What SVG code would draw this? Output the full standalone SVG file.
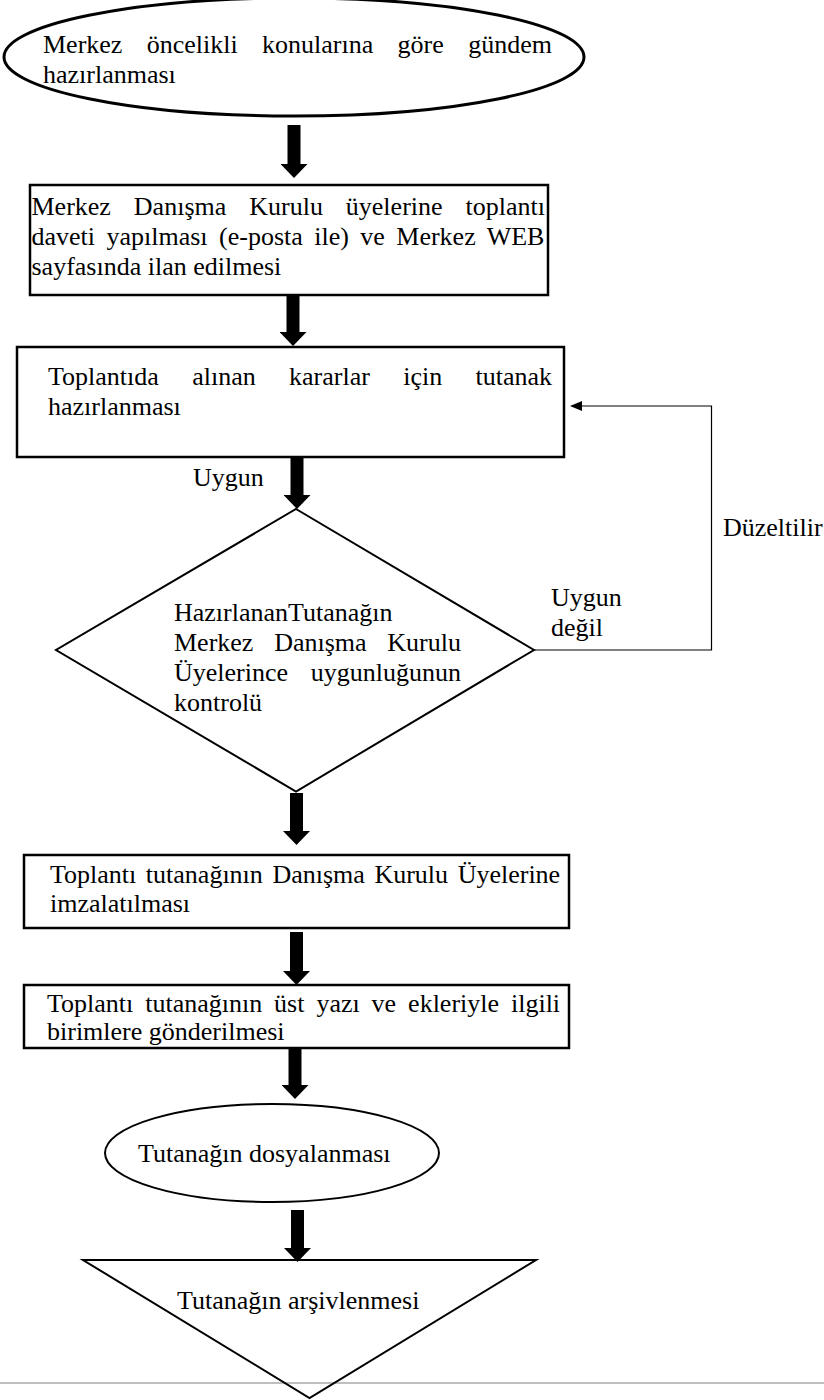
<svg xmlns="http://www.w3.org/2000/svg" width="824" height="1400" viewBox="0 0 824 1400">
<style>
.t{font-family:"Liberation Serif","Times New Roman",serif;font-size:26px;fill:#000}
.s{fill:none;stroke:#000;stroke-width:2.5}
.s2{fill:none;stroke:#000;stroke-width:2}
.ar{stroke:#000;stroke-width:13;fill:none;marker-end:url(#head)}
.fb{fill:none;stroke:#000;stroke-width:1.2;marker-end:url(#small)}
</style>
<defs>
<marker id="head" markerUnits="userSpaceOnUse" viewBox="0 0 14 27" markerWidth="14" markerHeight="27" refX="0" refY="13.5" orient="auto"><path d="M0,0 L14,13.5 L0,27 Z" fill="#000"/></marker>
<marker id="small" markerUnits="userSpaceOnUse" viewBox="0 0 12 10" markerWidth="12" markerHeight="10" refX="0" refY="5" orient="auto"><path d="M0,0 L12,5 L0,10 Z" fill="#000"/></marker>
</defs>
<rect x="0" y="0" width="824" height="1400" fill="#fff"/>
<line x1="0" y1="1383" x2="824" y2="1383" stroke="#bfbfbf" stroke-width="2"/>

<g id="connectors">
<line class="ar" x1="294" y1="125" x2="294" y2="164"/>
<line class="ar" x1="293" y1="296" x2="293" y2="332"/>
<line class="ar" x1="297" y1="458" x2="297" y2="495"/>
<line class="ar" x1="296.5" y1="793" x2="296.5" y2="831"/>
<line class="ar" x1="296.5" y1="932" x2="296.5" y2="971"/>
<line class="ar" x1="295" y1="1049" x2="295" y2="1085"/>
<line class="ar" x1="297.5" y1="1210" x2="297.5" y2="1248"/>
<polyline class="fb" points="534,650 711.5,650 711.5,406 582,406"/>
<text class="t" x="193" y="486">Uygun</text>
<text class="t" x="551" y="606">Uygun</text>
<text class="t" x="551" y="636">değil</text>
<text class="t" x="723" y="536">Düzeltilir</text>
</g>

<g id="start">
<ellipse class="s" cx="294" cy="57" rx="290" ry="59" style="stroke-width:3"/>
<text class="t" x="43" y="53" word-spacing="17.85">Merkez öncelikli konularına göre gündem</text>
<text class="t" x="43" y="83">hazırlanması</text>
</g>

<g id="invite">
<rect class="s" x="30" y="185" width="518" height="110"/>
<text class="t" x="31.5" y="215" word-spacing="16.45">Merkez Danışma Kurulu üyelerine toplantı</text>
<text class="t" x="31.5" y="245" word-spacing="4.95">daveti yapılması (e-posta ile) ve Merkez WEB</text>
<text class="t" x="31.5" y="275">sayfasında ilan edilmesi</text>
</g>

<g id="minutes">
<rect class="s" x="17" y="347" width="547" height="110"/>
<text class="t" x="48" y="385" word-spacing="26.85">Toplantıda alınan kararlar için tutanak</text>
<text class="t" x="48" y="415">hazırlanması</text>
</g>

<g id="check">
<polygon class="s2" points="296,509 534,650 296,791.5 56,650"/>
<text class="t" x="174" y="621">HazırlananTutanağın</text>
<text class="t" x="174" y="651" word-spacing="14.25">Merkez Danışma Kurulu</text>
<text class="t" x="174" y="681" word-spacing="16.2">Üyelerince uygunluğunun</text>
<text class="t" x="174" y="711">kontrolü</text>
</g>

<g id="sign">
<rect class="s" x="24" y="855" width="545" height="73"/>
<text class="t" x="50" y="883" word-spacing="3.08">Toplantı tutanağının Danışma Kurulu Üyelerine</text>
<text class="t" x="50" y="912">imzalatılması</text>
</g>

<g id="send">
<rect class="s" x="24" y="985" width="545" height="63"/>
<text class="t" x="47" y="1012" word-spacing="5.43">Toplantı tutanağının üst yazı ve ekleriyle ilgili</text>
<text class="t" x="47" y="1040">birimlere gönderilmesi</text>
</g>

<g id="file">
<ellipse class="s2" cx="272" cy="1153" rx="167" ry="49"/>
<text class="t" x="138" y="1162">Tutanağın dosyalanması</text>
</g>

<g id="archive">
<polygon class="s2" points="83,1260 536,1260 309.5,1398"/>
<text class="t" x="177" y="1309">Tutanağın arşivlenmesi</text>
</g>
</svg>
